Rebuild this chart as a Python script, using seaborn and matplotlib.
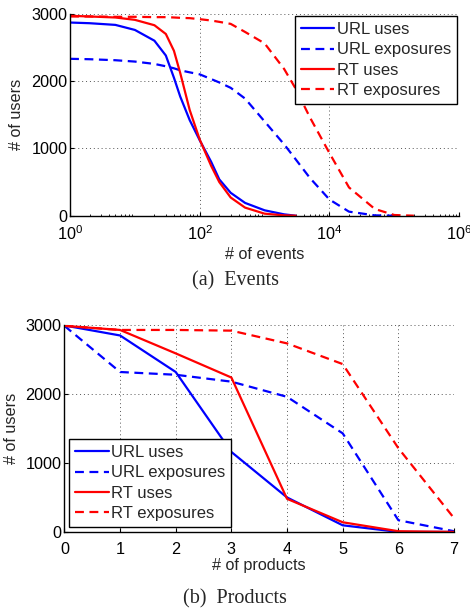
import numpy as np
import pandas as pd
import matplotlib
matplotlib.use("Agg")
import matplotlib.pyplot as plt
import seaborn as sns

# --- data ---
# (a) events, log x axis
events = [1, 2, 5, 10, 20, 30, 40, 50, 70, 100, 150, 200, 300, 500,
          1000, 2000, 3000, 5000, 10000, 20000, 50000, 100000, 200000]
url_uses_ev = [2870, 2860, 2835, 2760, 2600, 2380, 2050, 1770, 1420, 1120, 800, 540, 340, 190,
               80, 20, 0, np.nan, np.nan, np.nan, np.nan, np.nan, np.nan]
url_exp_ev = [2331, 2325, 2310, 2290, 2255, 2220, 2190, 2160, 2130, 2100, 2030, 1980, 1900, 1740,
              1400, 1060, 840, 560, 240, 60, 5, 0, np.nan]
rt_uses_ev = [2970, 2960, 2945, 2910, 2830, 2700, 2450, 2120, 1570, 1130, 740, 500, 270, 120,
              30, 5, 0, np.nan, np.nan, np.nan, np.nan, np.nan, np.nan]
rt_exp_ev = [2960, 2960, 2955, 2955, 2950, 2950, 2945, 2940, 2935, 2920, 2900, 2880, 2850, 2730,
             2560, 2180, 1890, 1460, 930, 420, 100, 10, 0]

# (b) products
products = [0, 1, 2, 3, 4, 5, 6, 7]
url_uses_pr = [2995, 2850, 2320, 1160, 500, 96, 0, 0]
url_exp_pr = [2990, 2320, 2280, 2180, 1960, 1430, 170, 10]
rt_uses_pr = [2990, 2930, 2590, 2240, 480, 140, 10, 0]
rt_exp_pr = [2990, 2930, 2930, 2920, 2735, 2435, 1215, 200]

labels = ["URL uses", "URL exposures", "RT uses", "RT exposures"]
colors = ["#0000ff", "#0000ff", "#ff0000", "#ff0000"]
styles = ["-", (0, (4, 2.5)), "-", (0, (4, 2.5))]

sns.set_theme(style="ticks")
plt.rcParams["font.family"] = ["Liberation Sans", "DejaVu Sans"]
plt.rcParams["mathtext.fontset"] = "custom"
plt.rcParams["mathtext.rm"] = "Liberation Sans"
plt.rcParams["mathtext.it"] = "Liberation Sans"
plt.rcParams["xtick.direction"] = "in"
plt.rcParams["ytick.direction"] = "in"

FS = 11.7

fig = plt.figure(figsize=(4.7, 6.1), dpi=100)
ax1 = fig.add_axes([0.149, 0.6464, 0.828, 0.331])
ax2 = fig.add_axes([0.137, 0.128, 0.829, 0.339])


def draw(ax, x, series):
    for y, lab, c, ls in zip(series, labels, colors, styles):
        df = pd.DataFrame({"x": x, "y": y}).dropna()
        sns.lineplot(data=df, x="x", y="y", ax=ax, color=c, linestyle=ls,
                     linewidth=1.6, label=lab)


def style_axes(ax):
    sns.despine(ax=ax)
    for s in ["left", "bottom"]:
        ax.spines[s].set_linewidth(1.0)
        ax.spines[s].set_color("black")
    ax.grid(True, which="major", linestyle=(0, (1, 3)), color="#555555", linewidth=0.7)
    ax.tick_params(which="major", labelsize=FS, colors="black", length=3, width=0.8,
                   direction="in", pad=2)
    ax.tick_params(which="minor", colors="black", length=1.5, width=0.6, direction="in")
    ax.set_ylim(0, 3000)
    ax.set_yticks([0, 1000, 2000, 3000])
    ax.set_ylabel("# of users", fontsize=FS, labelpad=5)


def add_legend(ax, loc, pad):
    leg = ax.legend(loc=loc, fontsize=12, frameon=True, fancybox=False,
                    edgecolor="black", framealpha=1, handlelength=2.0, handletextpad=0.15,
                    borderpad=0.35, labelspacing=0.32, borderaxespad=pad)
    leg.get_frame().set_linewidth(1.0)


draw(ax1, events, [url_uses_ev, url_exp_ev, rt_uses_ev, rt_exp_ev])
ax1.set_xscale("log")
ax1.set_xlim(1, 1e6)
ax1.set_xticks([1, 1e2, 1e4, 1e6])
style_axes(ax1)
ax1.tick_params(axis="x", which="major", pad=6)
ax1.set_xlabel("# of events", fontsize=FS, labelpad=3)
add_legend(ax1, "upper right", 0.15)

draw(ax2, products, [url_uses_pr, url_exp_pr, rt_uses_pr, rt_exp_pr])
ax2.set_xlim(0, 7)
ax2.set_xticks(products)
style_axes(ax2)
ax2.tick_params(axis="x", which="major", pad=7)
ax2.set_xlabel("# of products", fontsize=FS, labelpad=1)
add_legend(ax2, "lower left", 0.3)

fig.text(0.5, 1 - 281 / 610, "(a)  Events", ha="center", va="center",
         fontsize=14.5, family=["Liberation Serif", "DejaVu Serif"])
fig.text(0.5, 1 - 599 / 610, "(b)  Products", ha="center", va="center",
         fontsize=14.5, family=["Liberation Serif", "DejaVu Serif"])

fig.savefig("out.png", dpi=100)
